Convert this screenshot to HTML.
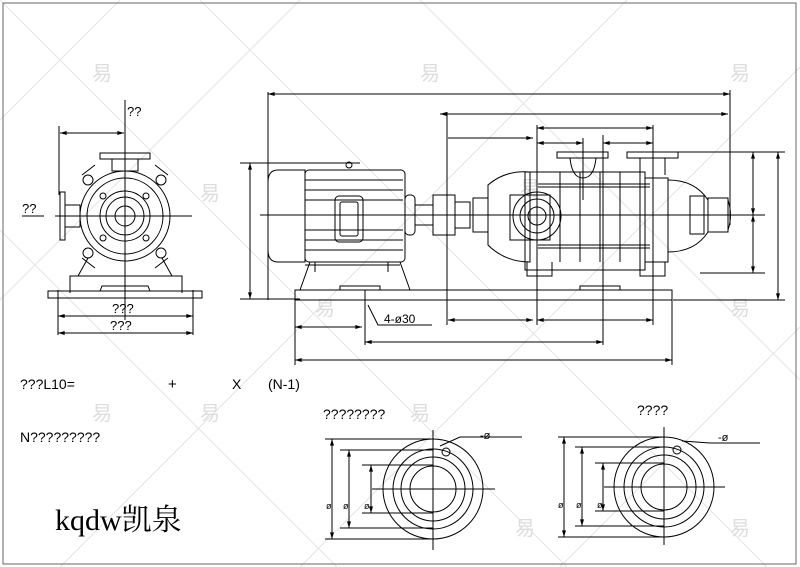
<!DOCTYPE html>
<html><head><meta charset="utf-8"><style>
html,body{margin:0;padding:0;background:#fff;}
svg{display:block;}
text{font-family:"Liberation Sans","Noto Sans CJK SC",sans-serif;fill:#000;}
</style></head><body>
<svg width="800" height="567" viewBox="0 0 800 567" xmlns="http://www.w3.org/2000/svg">
<defs>
<marker id="a" viewBox="0 0 10 6" refX="10" refY="3" markerWidth="8" markerHeight="4" orient="auto-start-reverse"><path d="M0,0L10,3L0,6z" fill="#000"/></marker>
</defs>
<rect x="0" y="0" width="800" height="567" fill="#fff"/>
<g stroke="#e4e4e4" stroke-width="1" fill="none">
<path d="M0,120L120,0M0,300L300,0M60,567L627,0M300,567L800,67M560,567L800,327M0,0L567,567M200,0L767,567M420,0L800,380M0,230L337,567"/>
</g>
<g fill="#ddd" font-size="20">
<text x="92" y="80" style="fill:#ddd">易</text><text x="200" y="200" style="fill:#ddd">易</text><text x="315" y="315" style="fill:#ddd">易</text><text x="420" y="80" style="fill:#ddd">易</text><text x="520" y="195" style="fill:#ddd">易</text><text x="730" y="80" style="fill:#ddd">易</text><text x="730" y="315" style="fill:#ddd">易</text><text x="200" y="420" style="fill:#ddd">易</text><text x="410" y="420" style="fill:#ddd">易</text><text x="515" y="535" style="fill:#ddd">易</text><text x="730" y="535" style="fill:#ddd">易</text><text x="92" y="420" style="fill:#ddd">易</text>
</g>
<rect x="3" y="3" width="793" height="561" fill="none" stroke="#666" stroke-width="1"/>
<g stroke="#000" stroke-width="1" fill="none">
<!-- left view -->
<line x1="125" y1="100" x2="125" y2="320"/>
<line x1="55" y1="216" x2="192" y2="216"/>
<line x1="59" y1="126" x2="59" y2="195"/>
<line x1="60" y1="133" x2="124" y2="133" marker-start="url(#a)" marker-end="url(#a)"/>
<rect x="100" y="153" width="50" height="6"/>
<rect x="112" y="159" width="26" height="12"/>
<rect x="60" y="192" width="5" height="48"/>
<rect x="65" y="205" width="15" height="22"/>
<circle cx="125" cy="216" r="45"/>
<circle cx="125" cy="216" r="38"/>
<circle cx="125" cy="216" r="25"/>
<circle cx="125" cy="216" r="19"/>
<circle cx="125" cy="216" r="10"/>
<circle cx="88" cy="180" r="5"/><circle cx="161" cy="180" r="5"/><circle cx="88" cy="253" r="5"/><circle cx="161" cy="253" r="5"/>
<circle cx="103" cy="196" r="3"/><circle cx="146" cy="196" r="3"/><circle cx="103" cy="238" r="3"/><circle cx="146" cy="238" r="3"/>
<path d="M82,175L95,165M168,175L155,165M82,258L95,268M168,258L155,268"/>
<path d="M78,276L88,258M172,276L162,258M70,293L70,276L182,276L182,293"/>
<rect x="48" y="291" width="154" height="7"/>
<path d="M65,291L100,291L102,286L148,286L150,291"/>
<line x1="58" y1="290" x2="58" y2="335"/><line x1="193" y1="290" x2="193" y2="335"/>
<line x1="58" y1="316" x2="193" y2="316" marker-start="url(#a)" marker-end="url(#a)"/>
<line x1="58" y1="333" x2="193" y2="333" marker-start="url(#a)" marker-end="url(#a)"/>
<line x1="22" y1="216" x2="44" y2="216"/>
<!-- main view: dims -->
<line x1="268" y1="92" x2="268" y2="300"/>
<line x1="268" y1="94" x2="730" y2="94" marker-start="url(#a)" marker-end="url(#a)"/>
<line x1="730" y1="90" x2="730" y2="225"/>
<line x1="440" y1="114" x2="728" y2="114" marker-start="url(#a)" marker-end="url(#a)"/>
<line x1="447" y1="112" x2="447" y2="325"/>
<line x1="448" y1="138" x2="533" y2="138" marker-end="url(#a)"/>
<line x1="537" y1="125" x2="537" y2="325"/>
<line x1="537" y1="128" x2="653" y2="128" marker-start="url(#a)" marker-end="url(#a)"/>
<line x1="653" y1="125" x2="653" y2="325"/>
<line x1="537" y1="143" x2="583" y2="143" marker-start="url(#a)" marker-end="url(#a)"/>
<line x1="603" y1="143" x2="653" y2="143" marker-start="url(#a)" marker-end="url(#a)"/>
<line x1="583" y1="138" x2="583" y2="200"/><line x1="603" y1="135" x2="603" y2="345"/>
<line x1="240" y1="163" x2="360" y2="163"/>
<line x1="250" y1="163" x2="250" y2="299" marker-start="url(#a)" marker-end="url(#a)"/>
<line x1="240" y1="299" x2="300" y2="299"/>
<line x1="678" y1="152" x2="785" y2="152"/>
<line x1="700" y1="273" x2="765" y2="273"/>
<line x1="673" y1="300" x2="785" y2="300"/>
<line x1="753" y1="152" x2="753" y2="215" marker-start="url(#a)" marker-end="url(#a)"/>
<line x1="753" y1="215" x2="753" y2="273" marker-start="url(#a)" marker-end="url(#a)"/>
<line x1="778" y1="152" x2="778" y2="300" marker-start="url(#a)" marker-end="url(#a)"/>
<line x1="260" y1="215" x2="765" y2="215"/>
<line x1="295" y1="300" x2="295" y2="365"/>
<line x1="672" y1="300" x2="672" y2="365"/>
<line x1="365" y1="290" x2="365" y2="345"/>
<line x1="295" y1="327" x2="362" y2="327" marker-start="url(#a)" marker-end="url(#a)"/>
<line x1="448" y1="320" x2="533" y2="320" marker-start="url(#a)" marker-end="url(#a)"/>
<line x1="537" y1="320" x2="653" y2="320" marker-start="url(#a)" marker-end="url(#a)"/>
<line x1="365" y1="342" x2="603" y2="342" marker-start="url(#a)" marker-end="url(#a)"/>
<line x1="295" y1="360" x2="672" y2="360" marker-start="url(#a)" marker-end="url(#a)"/>
<path d="M368,305L378,325L432,325"/>
<!-- motor -->
<path d="M278,170L305,170L305,262L278,262Q268,262 268,250L268,182Q268,170 278,170Z"/>
<rect x="305" y="170" width="100" height="92" rx="4"/>
<path d="M305,180H403M305,190H403M305,200H403M305,230H403M305,240H403M305,250H403"/>
<rect x="335" y="196" width="28" height="46" rx="4"/><rect x="340" y="202" width="18" height="34" rx="2"/>
<path d="M310,262L300,290M400,262L410,290"/>
<path d="M315,262V272M388,262V272M305,265H400"/>
<circle cx="349" cy="165" r="3"/>
<!-- coupling & shaft -->
<rect x="405" y="195" width="10" height="40" rx="4"/>
<rect x="415" y="205" width="18" height="20"/>
<rect x="433" y="195" width="22" height="40"/>
<rect x="455" y="202" width="15" height="26"/>
<!-- pump -->
<path d="M473,198L488,198L488,232L473,232Z"/>
<path d="M488,185Q505,170 530,172L530,262Q505,262 488,245Z"/>
<rect x="510" y="195" width="40" height="45"/>
<circle cx="537" cy="216" r="24"/><circle cx="537" cy="216" r="17"/><circle cx="537" cy="216" r="9"/>
<rect x="525" y="172" width="120" height="98"/>
<path d="M560,172V262M580,172V262M600,172V262M620,172V262M640,172V262"/>
<path d="M538,184H650M538,187H650M538,245H650M538,248H650"/>
<rect x="557" y="152" width="51" height="6"/><path d="M570,158Q572,178 583,178Q594,178 596,158"/>
<rect x="627" y="152" width="51" height="6"/><path d="M640,158V175M665,158V175"/>
<path d="M645,178H668V262H645"/>
<path d="M668,180Q695,180 708,200L708,232Q695,252 668,252"/>
<rect x="690" y="196" width="14" height="38"/>
<rect x="708" y="198" width="20" height="34"/>
<path d="M728,200Q733,215 728,230"/>
<path d="M527,262V276H552V262M640,262V276H665V262"/>
<!-- base -->
<rect x="295" y="290" width="377" height="10"/>
<path d="M340,290V286H380V290M580,290V286H620V290"/>
<!-- bottom circles -->
<line x1="433" y1="430" x2="433" y2="550"/><line x1="372" y1="489" x2="495" y2="489"/>
<circle cx="433" cy="489" r="50"/><circle cx="433" cy="489" r="40"/><circle cx="433" cy="489" r="32"/><circle cx="433" cy="489" r="23"/>
<circle cx="446" cy="452" r="4"/>
<path d="M440,446L460,437L522,437"/>
<line x1="325" y1="439" x2="433" y2="439"/><line x1="340" y1="450" x2="433" y2="450"/><line x1="362" y1="465" x2="433" y2="465"/>
<line x1="362" y1="513" x2="433" y2="513"/><line x1="340" y1="528" x2="433" y2="528"/><line x1="325" y1="539" x2="433" y2="539"/>
<line x1="332" y1="439" x2="332" y2="539" marker-start="url(#a)" marker-end="url(#a)"/>
<line x1="349" y1="450" x2="349" y2="528" marker-start="url(#a)" marker-end="url(#a)"/>
<line x1="371" y1="465" x2="371" y2="513" marker-start="url(#a)" marker-end="url(#a)"/>
<line x1="664" y1="427" x2="664" y2="545"/><line x1="604" y1="487" x2="725" y2="487"/>
<circle cx="664" cy="487" r="50"/><circle cx="664" cy="487" r="40"/><circle cx="664" cy="487" r="32"/><circle cx="664" cy="487" r="23"/>
<circle cx="677" cy="450" r="4"/>
<path d="M682,441L710,443L760,443"/>
<line x1="558" y1="437" x2="664" y2="437"/><line x1="575" y1="447" x2="664" y2="447"/><line x1="595" y1="463" x2="664" y2="463"/>
<line x1="595" y1="511" x2="664" y2="511"/><line x1="575" y1="526" x2="664" y2="526"/><line x1="558" y1="537" x2="664" y2="537"/>
<line x1="564" y1="437" x2="564" y2="537" marker-start="url(#a)" marker-end="url(#a)"/>
<line x1="582" y1="447" x2="582" y2="526" marker-start="url(#a)" marker-end="url(#a)"/>
<line x1="603" y1="463" x2="603" y2="511" marker-start="url(#a)" marker-end="url(#a)"/>
</g>
<g font-size="13">
<text x="127" y="116">??</text>
<text x="22" y="213">??</text>
<text x="112" y="313">???</text>
<text x="110" y="330">???</text>
<text x="384" y="323" font-size="12">4-ø30</text>
<text x="20" y="389" font-size="14">???L10=</text>
<text x="168" y="389" font-size="15">+</text>
<text x="232" y="389" font-size="14">X</text>
<text x="268" y="389" font-size="14">(N-1)</text>
<text x="20" y="442" font-size="14">N?????????</text>
<text x="323" y="419" font-size="14">????????</text>
<text x="637" y="415" font-size="14">????</text>
<text x="480" y="439" font-size="11">-ø</text>
<text x="718" y="441" font-size="11">-ø</text>
<g font-size="9"><text x="326" y="509">ø</text><text x="343" y="509">ø</text><text x="364" y="509">ø</text><text x="558" y="508">ø</text><text x="576" y="508">ø</text><text x="597" y="508">ø</text></g>
<text x="55" y="530" font-size="30" style="font-family:'Liberation Serif','Noto Serif CJK SC',serif">kqdw凯泉</text>
</g>
</svg>
</body></html>
